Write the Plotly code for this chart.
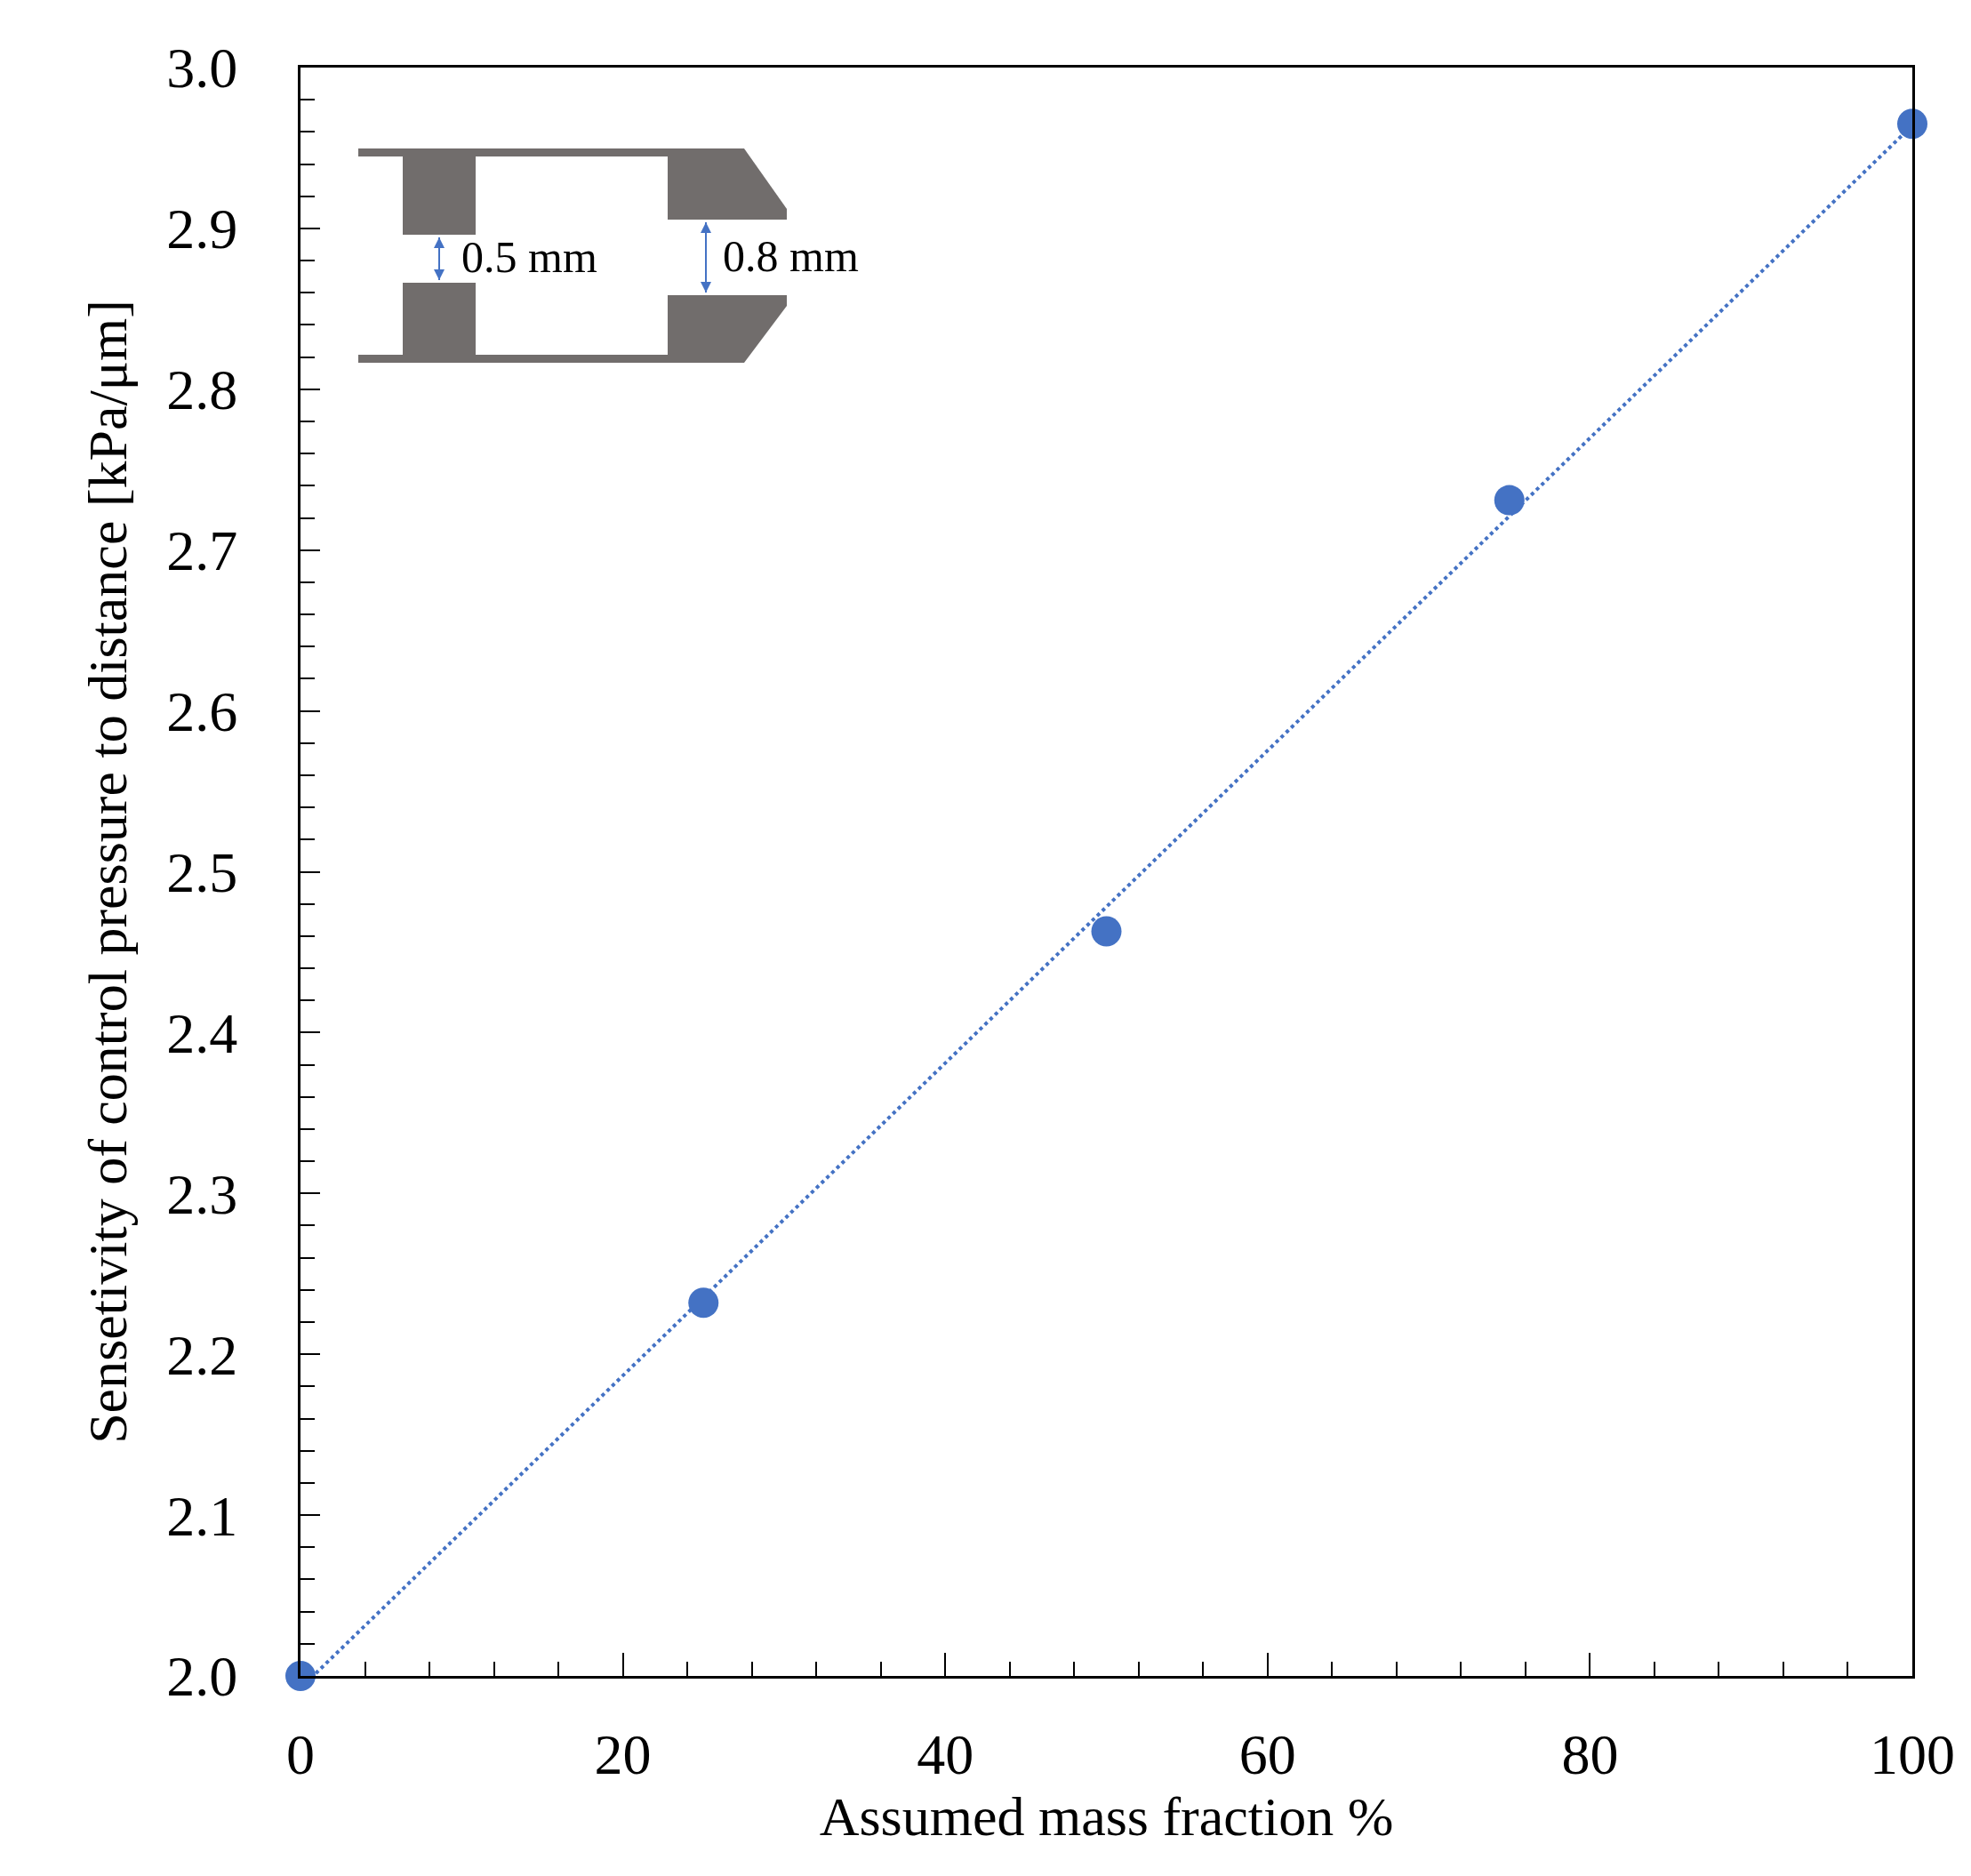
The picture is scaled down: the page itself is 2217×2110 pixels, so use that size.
import numpy as np
import plotly.graph_objects as go

mass_fraction = [0, 25, 50, 75, 100]
sensitivity = [2.0, 2.232, 2.463, 2.731, 2.965]
x_ticks = [0, 20, 40, 60, 80, 100]
y_ticks = [2.0, 2.1, 2.2, 2.3, 2.4, 2.5, 2.6, 2.7, 2.8, 2.9, 3.0]

W, H = 2217, 2110
L, R, T, B = 330, 74, 68, 233
PW, PH = W - L - R, H - T - B
def px(x): return (x - L) / PW
def py(y): return (H - B - y) / PH

BLUE = "#4472C4"
FONT = "Liberation Serif"

k, b = np.polyfit(mass_fraction, sensitivity, 1)
fit_x = [0, 100]
fit_y = [b, k * 100 + b]

fig = go.Figure()
fig.add_trace(go.Scatter(x=fit_x, y=fit_y, mode="lines",
                         line=dict(color=BLUE, width=4, dash="dot"), showlegend=False))
fig.add_trace(go.Scatter(x=mass_fraction, y=sensitivity, mode="markers",
                         marker=dict(color=BLUE, size=34), showlegend=False, cliponaxis=False))

GREY = "#716d6c"
shapes = []
def poly(pts):
    path = "M " + " L ".join(f"{px(a)},{py(c)}" for a, c in pts) + " Z"
    shapes.append(dict(type="path", xref="paper", yref="paper", path=path,
                       fillcolor=GREY, line=dict(width=0), layer="above"))
poly([(395, 159), (829, 159), (829, 168), (395, 168)])
poly([(395, 391), (829, 391), (829, 400), (395, 400)])
poly([(445, 159), (527, 159), (527, 256), (445, 256)])
poly([(445, 310), (527, 310), (527, 400), (445, 400)])
poly([(743, 159), (829, 159), (877, 227), (877, 239), (743, 239)])
poly([(743, 324), (877, 324), (877, 336), (829, 400), (743, 400)])
for xx, y0, y1 in [(486, 259, 307), (786, 242, 321)]:
    shapes.append(dict(type="line", xref="paper", yref="paper",
                       x0=px(xx), x1=px(xx), y0=py(y0), y1=py(y1),
                       line=dict(color=BLUE, width=2), layer="above"))

annotations = []
for xx, y0, y1 in [(486, 259, 307), (786, 242, 321)]:
    for ya, off in [(y0, 12), (y1, -12)]:
        annotations.append(dict(xref="paper", yref="paper", x=px(xx), y=py(ya),
                                ax=0, ay=off, axref="pixel", ayref="pixel",
                                showarrow=True, arrowhead=2, arrowsize=1.2, arrowwidth=2,
                                arrowcolor=BLUE, text=""))
for txt, xx, yy in [("0.5 mm", 509, 281), ("0.8 mm", 803, 280)]:
    annotations.append(dict(xref="paper", yref="paper", x=px(xx), y=py(yy),
                            xanchor="left", yanchor="middle", showarrow=False, text=txt,
                            font=dict(family=FONT, size=50, color="black")))

axis_common = dict(showline=True, linecolor="black", linewidth=3, mirror=True,
                   ticks="inside", tickcolor="black", tickwidth=2, showgrid=False,
                   zeroline=False, tickfont=dict(family=FONT, size=64, color="black"))
fig.update_layout(
    width=W, height=H, margin=dict(l=L, r=R, t=T, b=B),
    paper_bgcolor="white", plot_bgcolor="white",
    shapes=shapes, annotations=annotations,
    xaxis=dict(range=[0, 100], tickvals=x_ticks, ticklen=26,
               minor=dict(tick0=0, dtick=4, ticks="inside", ticklen=16, tickcolor="black", tickwidth=2),
               ticklabelstandoff=30,
               title=dict(text="Assumed mass fraction %", standoff=10,
                          font=dict(family=FONT, size=62, color="black")),
               **axis_common),
    yaxis=dict(range=[2.0, 3.0], tickvals=y_ticks, tickformat=".1f", ticklen=22,
               minor=dict(tick0=2.0, dtick=0.02, ticks="inside", ticklen=16, tickcolor="black", tickwidth=2),
               ticklabelstandoff=55,
               title=dict(text="Sensetivity of control pressure to distance [kPa/μm]", standoff=25,
                          font=dict(family=FONT, size=62, color="black")),
               **axis_common),
)
fig.write_html("out.html")
